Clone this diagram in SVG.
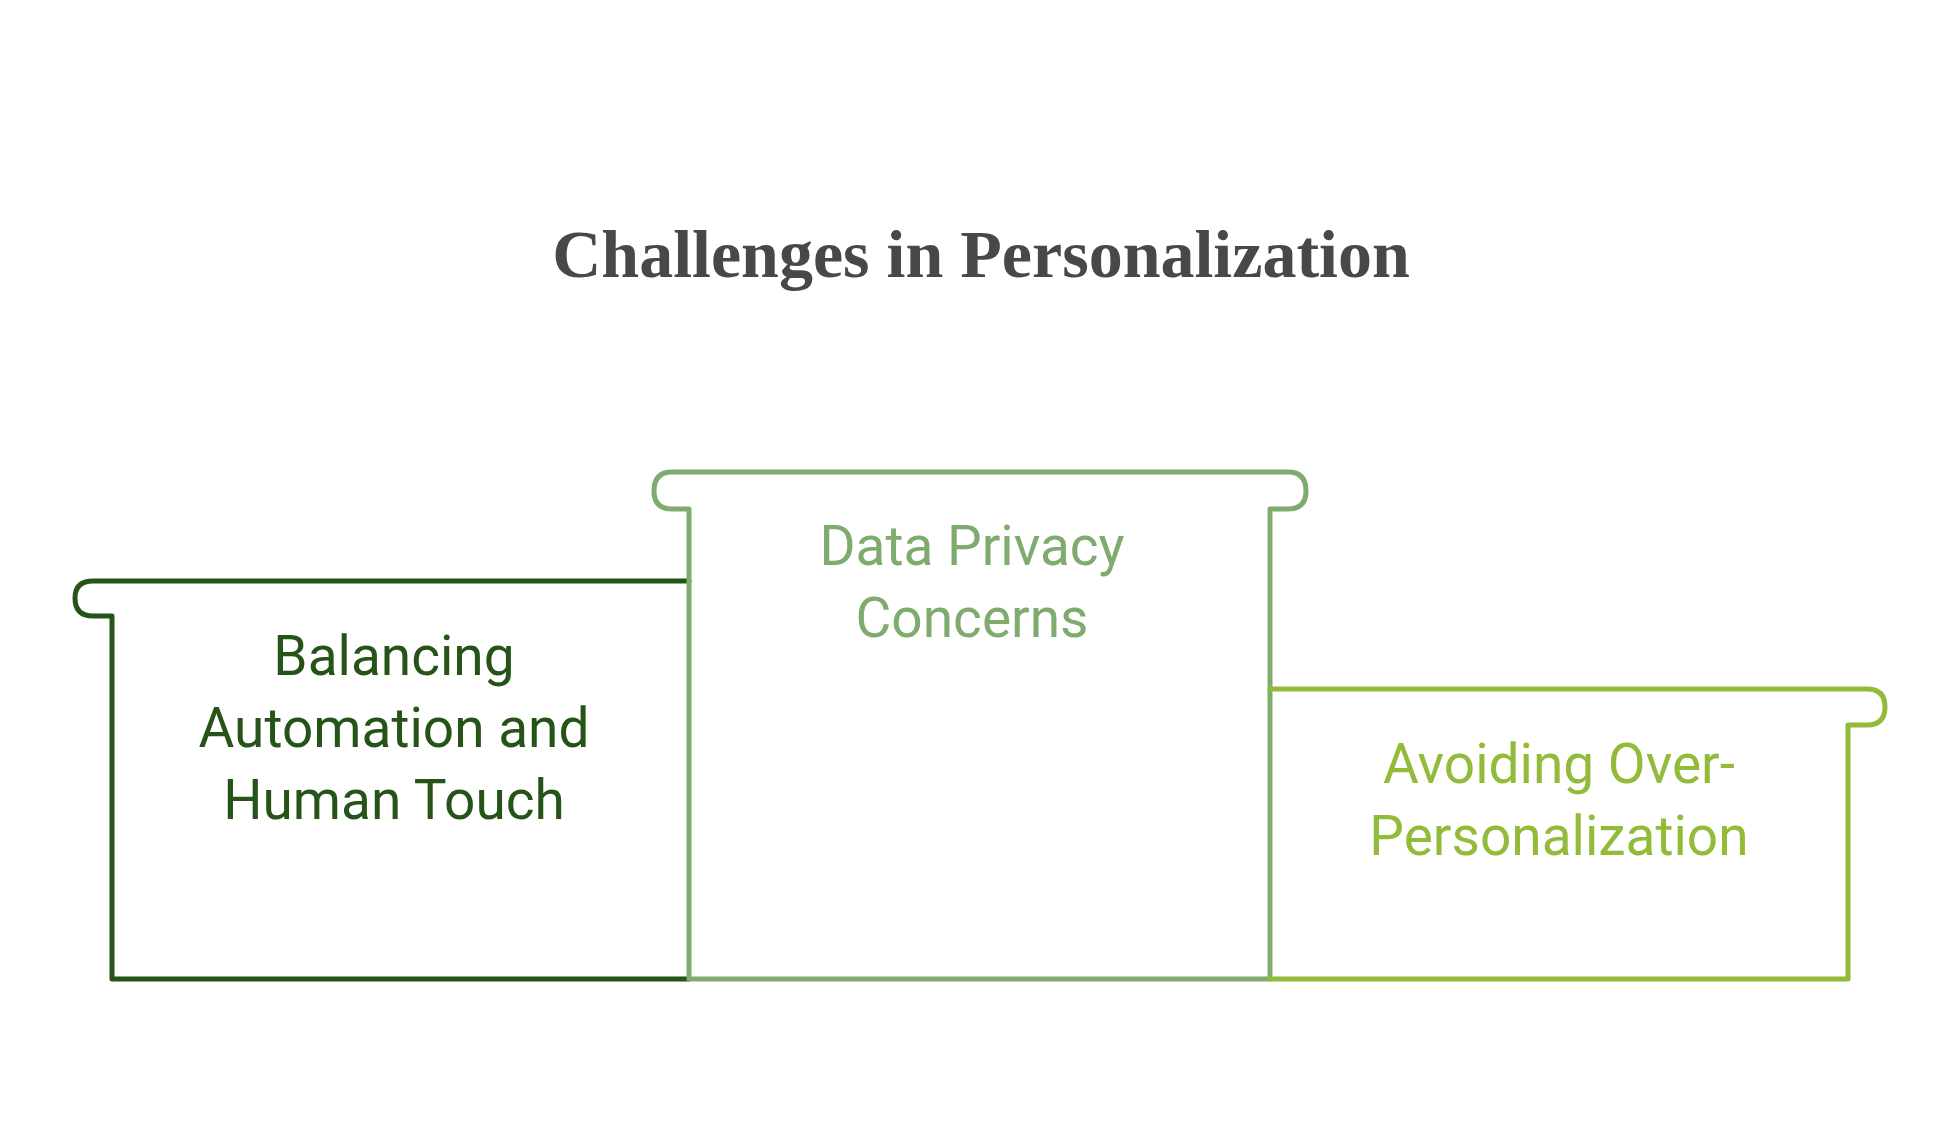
<svg xmlns="http://www.w3.org/2000/svg" width="1950" height="1122" viewBox="0 0 1950 1122">
<style>
.s{fill:none;stroke-width:5;stroke-linejoin:round;stroke-linecap:round}
.t{font-family:Roboto,"Liberation Sans",sans-serif;font-size:55px;text-anchor:middle}
</style>
<rect width="1950" height="1122" fill="#fff"/>
<text x="981" y="277" font-family="'Liberation Serif',serif" font-weight="bold" font-size="68" fill="#484848" text-anchor="middle">Challenges in Personalization</text>
<g id="left">
<path class="s" stroke="#265317" d="M689,581 H93 Q75,581 75,598 Q75,616 93,616 H112 V979 H689"/>
<text class="t" fill="#265317"><tspan x="394" y="675">Balancing</tspan><tspan x="394" y="747">Automation and</tspan><tspan x="394" y="819">Human Touch</tspan></text>
</g>
<g id="center">
<path class="s" stroke="#7fab6e" d="M689,979 V509 H672 Q654,509 654,491 Q654,472 672,472 H1288 Q1306,472 1306,491 Q1306,509 1288,509 H1270 V979 Z"/>
<text class="t" fill="#7fab6e"><tspan x="972" y="565">Data Privacy</tspan><tspan x="972" y="637">Concerns</tspan></text>
</g>
<g id="right">
<path class="s" stroke="#93bb3a" d="M1270,689 H1867 Q1885,689 1885,707 Q1885,725 1867,725 H1848 V979 H1270"/>
<text class="t" fill="#93bb3a"><tspan x="1559" y="783">Avoiding Over-</tspan><tspan x="1559" y="855">Personalization</tspan></text>
</g>
<g id="connectors"/>
</svg>
